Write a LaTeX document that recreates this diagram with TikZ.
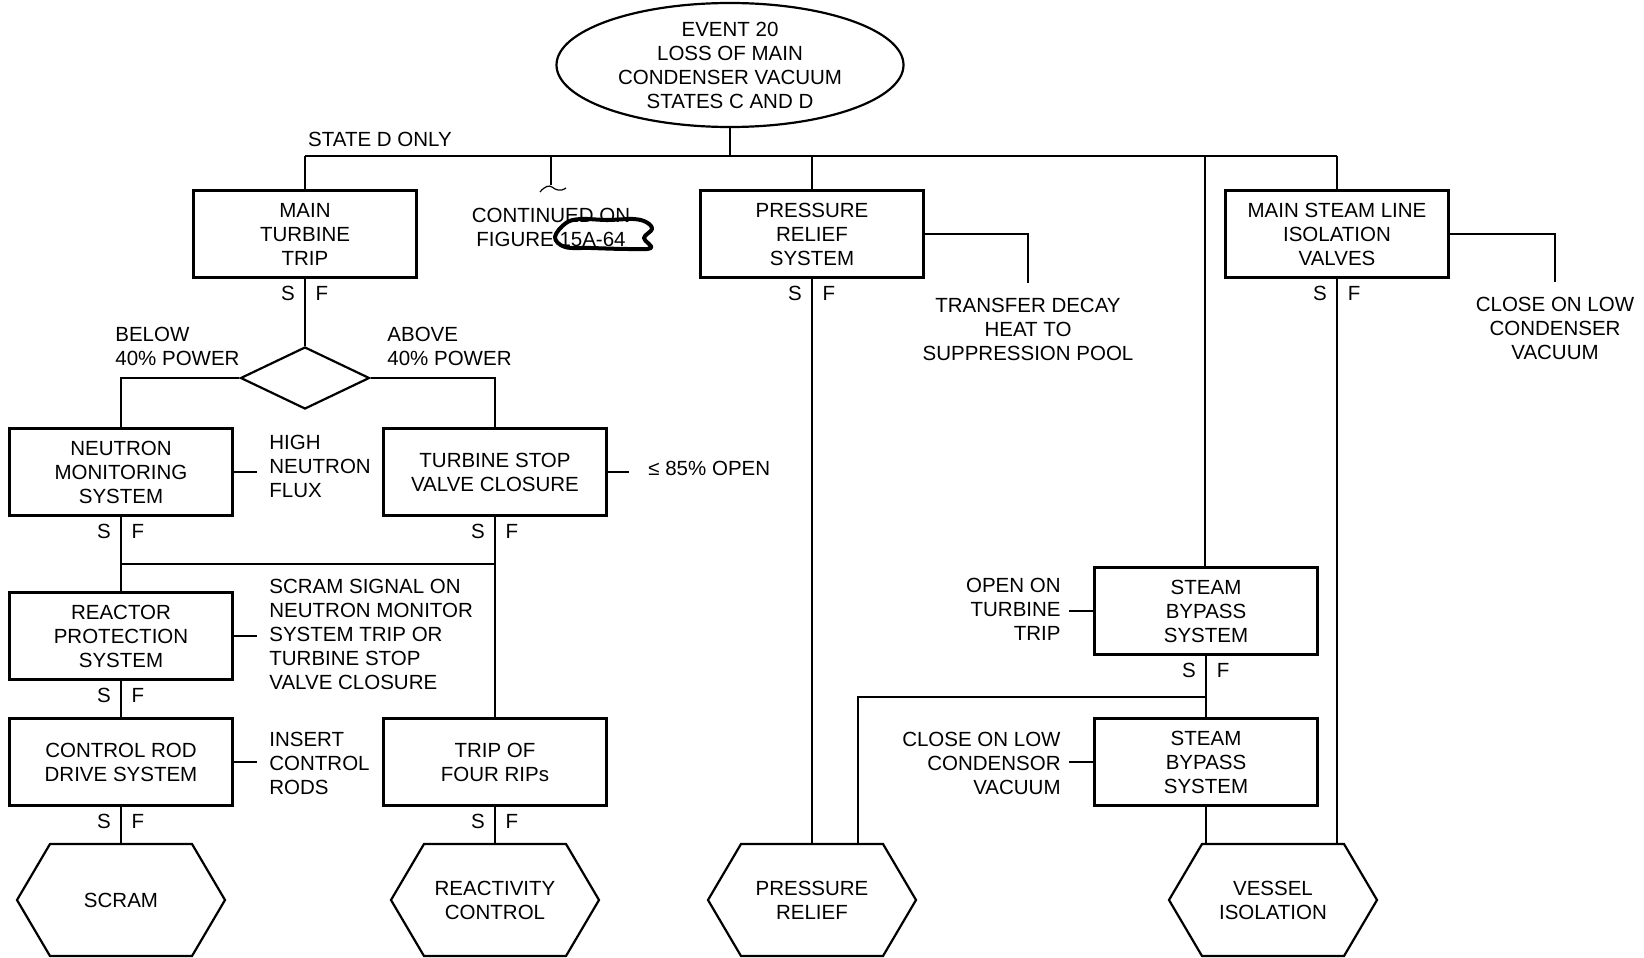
\documentclass[tikz,border=0pt]{standalone}
\usepackage{fontspec}
\setmainfont{Liberation Sans}
\usetikzlibrary{shapes.geometric,shapes.symbols,calc}

\tikzset{
  every node/.style={font=\fontsize{10.25}{12}\selectfont},
  evt/.style={ellipse, draw, line width=1.1pt, minimum width=173.5pt, minimum height=62pt, inner sep=0pt, align=center},
  sysbox/.style={rectangle, draw, line width=1.1pt, minimum width=111.5pt, minimum height=43.5pt, inner sep=0pt, align=center},
  decide/.style={diamond, draw, line width=1.1pt, minimum width=64.5pt, minimum height=31pt, inner sep=0pt},
  endstate/.style={signal, signal to=east and west, signal pointer angle=119, draw, line width=1.1pt, minimum width=104pt, minimum height=56pt, inner sep=0pt, align=center},
  notel/.style={anchor=west, align=left, inner ysep=0pt, inner xsep=6pt},
  noter/.style={anchor=east, align=right, inner ysep=0pt, inner xsep=4pt},
  notec/.style={align=center, inner xsep=0pt, inner ysep=7pt},
  plain/.style={inner sep=0pt, align=left},
  sflab/.style={inner sep=0pt},
  conn/.style={line width=0.6pt},
}

\newcommand{\sfmark}[1]{%
  \node[sflab] (#1s) at ($(#1.south)+(-17,15)$) {S};
  \node[sflab] (#1f) at ($(#1.south)+(17,15)$) {F};}

\begin{document}
\begin{tikzpicture}[x=0.5pt, y=-0.5pt]
  \useasboundingbox (0,0) rectangle (1644,958);

  \node[evt] (ev) at (730,65) {EVENT 20\\LOSS OF MAIN\\CONDENSER VACUUM\\STATES C AND D};
  \node[plain] (stD) at (380,139) {STATE D ONLY};

  \node[sysbox] (mtt) at (305,234) {MAIN\\TURBINE\\TRIP};
  \node[sysbox] (prs) at (812,234) {PRESSURE\\RELIEF\\SYSTEM};
  \node[sysbox] (msiv) at (1337,234) {MAIN STEAM LINE\\ISOLATION\\VALVES};
  \node[plain, align=center] (contd) at (551,227) {CONTINUED ON\\FIGURE 15A-64};
  \node[notec] (tdh) at (1028,329) {TRANSFER DECAY\\HEAT TO\\SUPPRESSION POOL};
  \node[notec] (clv) at (1555,328) {CLOSE ON LOW\\CONDENSER\\VACUUM};

  \node[decide] (dia) at (305,378) {};
  \node[plain, anchor=west] (blw) at (115,346) {BELOW\\40\% POWER};
  \node[plain, anchor=west] (abv) at (387,346) {ABOVE\\40\% POWER};

  \node[sysbox] (nms) at (121,472) {NEUTRON\\MONITORING\\SYSTEM};
  \node[sysbox] (tsv) at (495,472) {TURBINE STOP\\VALVE CLOSURE};
  \node[notel] (hnf) at (257,466) {HIGH\\NEUTRON\\FLUX};
  \node[notel, inner xsep=9.5pt] (opn) at (629,468) {≤ 85\% OPEN};

  \node[sysbox] (rps) at (121,636) {REACTOR\\PROTECTION\\SYSTEM};
  \node[notel] (ssig) at (257,634) {SCRAM SIGNAL ON\\NEUTRON MONITOR\\SYSTEM TRIP OR\\TURBINE STOP\\VALVE CLOSURE};
  \node[sysbox] (crd) at (121,762) {CONTROL ROD\\DRIVE SYSTEM};
  \node[notel] (icr) at (257,763) {INSERT\\CONTROL\\RODS};
  \node[sysbox] (rip) at (495,762) {TRIP OF\\FOUR RIPs};

  \node[sysbox] (sb1) at (1206,611) {STEAM\\BYPASS\\SYSTEM};
  \node[noter] (oot) at (1069,609) {OPEN ON\\TURBINE\\TRIP};
  \node[sysbox] (sb2) at (1206,762) {STEAM\\BYPASS\\SYSTEM};
  \node[noter] (clc) at (1069,763) {CLOSE ON LOW\\CONDENSOR\\VACUUM};

  \node[endstate] (scr) at (121,900) {SCRAM};
  \node[endstate] (rct) at (495,900) {REACTIVITY\\CONTROL};
  \node[endstate] (prh) at (812,900) {PRESSURE\\RELIEF};
  \node[endstate] (vih) at (1273,900) {VESSEL\\ISOLATION};

  \sfmark{mtt} \sfmark{prs} \sfmark{msiv} \sfmark{nms} \sfmark{tsv}
  \sfmark{rps} \sfmark{crd} \sfmark{rip} \sfmark{sb1}

  \coordinate (jn) at (730,156);
  \coordinate (cont) at (551,185);
  \coordinate (sbtop) at (1205,156);
  \coordinate (orjn) at (495,564);
  \coordinate (sbjn) at (1206,697);
  \coordinate (prjn) at (858,697);

  \begin{scope}[conn]
    \draw (ev) to (jn);
    \draw (mtt.north |- jn) to (msiv.north |- jn);
    \draw (mtt.north |- jn) to (mtt.north);
    \draw (prs.north |- jn) to (prs.north);
    \draw (msiv.north |- jn) to (msiv.north);
    \draw (sbtop) to (sbtop |- sb1.north);
    \draw (cont |- jn) to (cont);
    \draw (540,192) .. controls (545,186) and (549,185) .. (552,187)
      .. controls (556,190) and (560,192) .. (566,188);
    \draw (prs.east) -| (tdh.north);
    \draw (msiv.east) -| (clv.north);

    \draw (mtt.south) to (dia.north);
    \draw (dia.west) -| (nms.north);
    \draw (dia.east) -| (tsv.north);
    \draw (nms.east) to (nms.east -| hnf.west);
    \draw (tsv.east) to (tsv.east -| opn.west);
    \draw (nms.south) to (rps.north);
    \draw (tsv.south) to (rip.north);
    \draw (orjn) to (orjn -| nms.south);
    \draw (rps.east) to (rps.east -| ssig.west);
    \draw (rps.south) to (crd.north);
    \draw (crd.east) to (crd.east -| icr.west);
    \draw (crd.south) to (scr.north);
    \draw (rip.south) to (rct.north);

    \draw (prs.south) to (prs.south |- prh.north);
    \draw (sb1.west) to (sb1.west -| oot.east);
    \draw (sb2.west) to (sb2.west -| clc.east);
    \draw (sb1.south) to (sb2.north);
    \draw (sbjn) to (prjn) to (prjn |- prh.north);
    \draw (sb2.south) to (sb2.south |- vih.north);
    \draw (msiv.south) to (msiv.south |- vih.north);
  \end{scope}

  % hand-drawn loop round the figure number
  \draw[line width=2pt, line join=round]
    plot[smooth cycle, tension=0.6] coordinates {(555,237) (566,223) (581,219) (607,220)
      (633,219) (646,222) (652,229) (644,238) (651,248) (628,249) (591,248) (565,247)};
\end{tikzpicture}
\end{document}
